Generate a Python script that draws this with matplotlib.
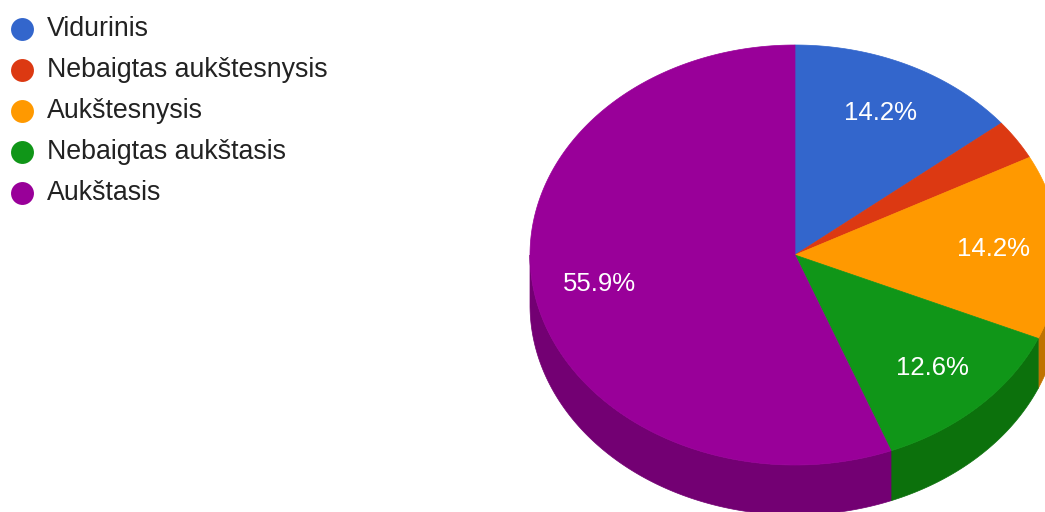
import numpy as np
import matplotlib.pyplot as plt
from matplotlib.patches import Polygon

categories = ['Vidurinis', 'Nebaigtas aukštesnysis', 'Aukštesnysis',
              'Nebaigtas aukštasis', 'Aukštasis']
shares = [14.2, 3.1, 14.2, 12.6, 55.9]
top_colors = ['#3366cc', '#dc3912', '#ff9900', '#109618', '#990099']
side_colors = ['#264d99', '#a52b0e', '#bf7300', '#0c710c', '#730073']

# pie geometry in pixels (y grows downward)
cx, cy = 795, 255
rx, ry = 265, 210
depth = 50


def rim(a0, a1, n=200):
    t = np.radians(np.linspace(a0, a1, n))
    return cx + rx * np.sin(t), cy - ry * np.cos(t)


fig = plt.figure(figsize=(10.45, 5.12), dpi=100)
ax = fig.add_axes([0, 0, 1, 1])
ax.set_xlim(0, 1045)
ax.set_ylim(512, 0)
ax.axis('off')

bounds = np.concatenate([[0], np.cumsum(shares)]) / sum(shares) * 360

# side walls: only the front half (90..270 deg from top, clockwise) shows
for i in range(len(shares)):
    a0 = max(bounds[i], 90)
    a1 = min(bounds[i + 1], 270)
    if a1 <= a0:
        continue
    x, y = rim(a0, a1)
    pts = np.column_stack([np.concatenate([x, x[::-1]]),
                           np.concatenate([y, y[::-1] + depth])])
    ax.add_patch(Polygon(pts, closed=True, facecolor=side_colors[i],
                         edgecolor=side_colors[i], lw=0.5))

# top faces and percentage labels
for i, share in enumerate(shares):
    x, y = rim(bounds[i], bounds[i + 1])
    pts = np.column_stack([np.concatenate([[cx], x]), np.concatenate([[cy], y])])
    ax.add_patch(Polygon(pts, closed=True, facecolor=top_colors[i],
                         edgecolor=top_colors[i], lw=0.5))
    if share >= 5:
        mid = np.radians((bounds[i] + bounds[i + 1]) / 2)
        lx = cx + 0.75 * rx * np.sin(mid)
        ly = cy - 0.75 * ry * np.cos(mid)
        ax.text(lx, ly, '%.1f%%' % share, color='white', fontsize=18.5,
                family='Liberation Sans', ha='center', va='center')

# legend
for i, name in enumerate(categories):
    ly = 29 + i * 41
    ax.plot(22, ly, 'o', markersize=16.5, color=top_colors[i], mec='none')
    ax.text(47, ly, name, fontsize=19.3, family='Liberation Sans',
            color='#222222', va='center', ha='left')

fig.savefig('out.png', dpi=100)
